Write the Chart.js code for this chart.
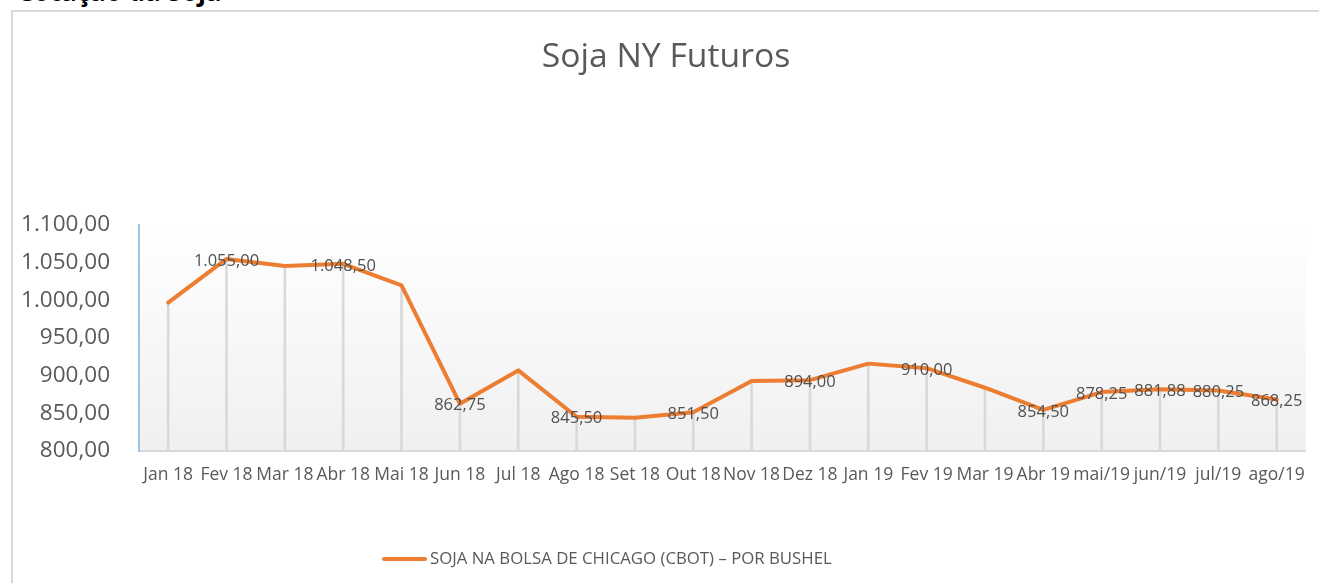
<!DOCTYPE html>
<html>
<head>
<meta charset="utf-8">
<script src="https://cdn.jsdelivr.net/npm/chart.js@4/dist/chart.umd.min.js"></script>
<style>
  html, body { margin: 0; background: #fff; overflow: hidden; width: 1319px; height: 583px; }
  #topo { position: absolute; left: 17px; top: -22px; font: bold 26px/26px "Open Sans", sans-serif; color: #000; white-space: nowrap; }
  #bordaTopo { position: absolute; left: 11px; top: 10px; width: 1308px; height: 2px; background: #d9d9d9; }
  #bordaEsq { position: absolute; left: 11px; top: 10px; width: 2px; height: 573px; background: #d9d9d9; }
  #grafico { position: absolute; left: 0; top: 0; }
</style>
</head>
<body>
<div id="topo">Cotação da Soja</div>
<div id="bordaTopo"></div>
<div id="bordaEsq"></div>
<canvas id="grafico" width="1319" height="583"></canvas>
<script>
// Dados da cotação
const meses = ['Jan 18', 'Fev 18', 'Mar 18', 'Abr 18', 'Mai 18', 'Jun 18', 'Jul 18', 'Ago 18', 'Set 18', 'Out 18',
               'Nov 18', 'Dez 18', 'Jan 19', 'Fev 19', 'Mar 19', 'Abr 19', 'mai/19', 'jun/19', 'jul/19', 'ago/19'];
const cotacao = [997, 1055, 1045.5, 1048.5, 1020, 862.75, 907, 845.5, 844, 851.5,
                 893, 894, 916, 910, 884, 854.5, 878.25, 881.88, 880.25, 868.25];
// quais pontos mostram o rótulo
const mostrarRotulo = [false, true, false, true, false, true, false, true, false, true,
                       false, true, false, true, false, true, true, true, true, true];
const ticksY = [800, 850, 900, 950, 1000, 1050, 1100];
const nomeSerie = 'SOJA NA BOLSA DE CHICAGO (CBOT) – POR BUSHEL';

const laranja = '#ED7D31';
const cinzaTexto = '#595959';
const fonte = '"Open Sans", sans-serif';

// formato brasileiro: 1.055,00
function formatar(v) {
    const partes = Number(v).toFixed(2).split('.');
    partes[0] = partes[0].replace(/\B(?=(\d{3})+(?!\d))/g, '.');
    return partes[0] + ',' + partes[1];
}

// fundo degradê da área do gráfico
const fundoPlugin = {
    id: 'fundo',
    beforeDraw(chart) {
        const { ctx, chartArea: a } = chart;
        const g = ctx.createLinearGradient(0, a.top, 0, a.bottom);
        g.addColorStop(0, '#ffffff');
        g.addColorStop(1, '#f0f0f0');
        ctx.save();
        ctx.fillStyle = g;
        ctx.fillRect(a.left, a.top, a.right - a.left, a.bottom - a.top);
        ctx.restore();
    }
};

// rótulos de dados centrados nos pontos
const rotulosPlugin = {
    id: 'rotulos',
    afterDatasetsDraw(chart) {
        const ctx = chart.ctx;
        const meta = chart.getDatasetMeta(0);
        ctx.save();
        ctx.font = '16.5px ' + fonte;
        ctx.fillStyle = '#505050';
        ctx.textAlign = 'center';
        ctx.textBaseline = 'middle';
        meta.data.forEach((pt, i) => {
            if (!mostrarRotulo[i]) return;
            ctx.fillText(formatar(cotacao[i]), pt.x, pt.y + 2);
        });
        ctx.restore();
    }
};

// legenda desenhada à mão (posição como no original)
const legendaPlugin = {
    id: 'legenda',
    afterDraw(chart) {
        const ctx = chart.ctx;
        const y = 559;
        ctx.save();
        ctx.strokeStyle = laranja;
        ctx.lineWidth = 4;
        ctx.lineCap = 'round';
        ctx.beginPath();
        ctx.moveTo(384, y);
        ctx.lineTo(425, y);
        ctx.stroke();
        ctx.font = '16.8px ' + fonte;
        ctx.fillStyle = cinzaTexto;
        ctx.textBaseline = 'middle';
        ctx.fillText(nomeSerie, 430, y);
        ctx.restore();
    }
};

const ctx = document.getElementById('grafico').getContext('2d');
const grafico = new Chart(ctx, {
    type: 'line',
    data: {
        labels: meses,
        datasets: [{
            label: nomeSerie,
            data: cotacao,
            borderColor: laranja,
            borderWidth: 4,
            borderCapStyle: 'round',
            borderJoinStyle: 'round',
            pointRadius: 0,
            tension: 0,
            order: 0
        }, {
            // linhas verticais de cada ponto até o eixo
            type: 'bar',
            label: 'linhas',
            data: cotacao,
            backgroundColor: '#d9d9d9',
            barThickness: 2,
            order: 1
        }]
    },
    plugins: [fundoPlugin, rotulosPlugin, legendaPlugin],
    options: {
        responsive: false,
        animation: false,
        layout: { padding: { left: 21, right: 8, top: 0, bottom: 0 } },
        plugins: {
            legend: { display: false },
            tooltip: { enabled: false },
            title: {
                display: true,
                text: 'Soja NY Futuros',
                color: cinzaTexto,
                font: { family: fonte, size: 33.7, weight: 'normal', lineHeight: 1.2 },
                padding: { top: 37.5, bottom: 147.1 }
            }
        },
        scales: {
            x: {
                offset: true,
                grid: { display: false, drawTicks: false },
                border: { display: true, color: '#d9d9d9', width: 2 },
                ticks: {
                    color: cinzaTexto,
                    font: { family: fonte, size: 17.5 },
                    padding: 14,
                    maxRotation: 0,
                    autoSkip: false
                },
                afterFit(scale) { scale.height = 583 - 451; }
            },
            y: {
                min: ticksY[0],
                max: ticksY[ticksY.length - 1],
                grid: { display: false, drawTicks: false },
                border: { display: true, color: '#9dc3e6', width: 2 },
                afterBuildTicks(scale) { scale.ticks = ticksY.map(v => ({ value: v })); },
                ticks: {
                    color: cinzaTexto,
                    font: { family: fonte, size: 22.5 },
                    padding: 29,
                    callback: v => formatar(v)
                },
                afterFit(scale) { scale.width = 139 - 21; }
            }
        }
    }
});
</script>
</body>
</html>
